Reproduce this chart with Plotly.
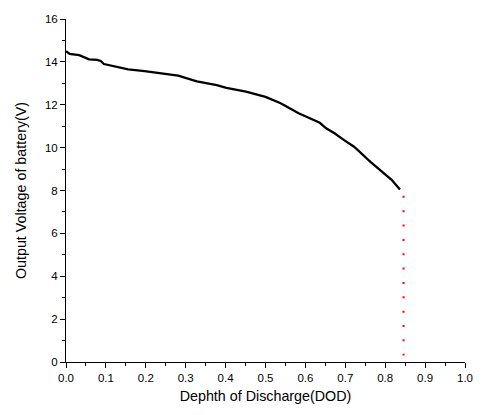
import plotly.graph_objects as go

# Battery discharge curve
dod = [0.0, 0.009, 0.033, 0.046, 0.058, 0.078, 0.087, 0.095, 0.115, 0.156,
       0.197, 0.230, 0.281, 0.328, 0.378, 0.402, 0.451, 0.500, 0.509, 0.538,
       0.583, 0.615, 0.636, 0.652, 0.673, 0.697, 0.722, 0.763, 0.788, 0.816,
       0.837]
voltage = [14.50, 14.37, 14.31, 14.21, 14.12, 14.09, 14.04, 13.90, 13.81, 13.65,
           13.57, 13.49, 13.36, 13.09, 12.92, 12.79, 12.61, 12.37, 12.30, 12.07,
           11.60, 11.33, 11.16, 10.90, 10.67, 10.35, 10.04, 9.34, 8.96, 8.50,
           8.05]

# Red dotted cut-off marker
cutoff_x = [0.846, 0.846]
cutoff_y = [7.75, 0.3]

font_family = "Liberation Sans, Arial, sans-serif"

fig = go.Figure()
fig.add_trace(go.Scatter(x=dod, y=voltage, mode="lines",
                         line=dict(color="black", width=2.3),
                         showlegend=False, hoverinfo="skip"))
fig.add_trace(go.Scatter(x=cutoff_x, y=cutoff_y, mode="lines",
                         line=dict(color="red", width=2, dash="2px,12.35px"),
                         showlegend=False, hoverinfo="skip"))

fig.update_layout(
    width=485, height=415,
    margin=dict(l=66, r=12, t=19, b=53),
    paper_bgcolor="white", plot_bgcolor="white",
    font=dict(family=font_family, size=12, color="black"),
)
fig.update_xaxes(
    range=[0, 1], dtick=0.1, tick0=0, tickformat=".1f",
    showline=True, linecolor="black", linewidth=1,
    ticks="outside", ticklen=5, tickwidth=1, tickcolor="black",
    minor=dict(dtick=0.05, ticks="outside", ticklen=3, tickcolor="black", showgrid=False),
    showgrid=False, zeroline=False,
    tickfont=dict(size=11.5),
    title=dict(text="Dephth of Discharge(DOD)", font=dict(size=14.3), standoff=8),
)
fig.update_yaxes(
    range=[0, 16], dtick=2, tick0=0,
    showline=True, linecolor="black", linewidth=1,
    ticks="outside", ticklen=5, tickwidth=1, tickcolor="black",
    minor=dict(dtick=1, ticks="outside", ticklen=3, tickcolor="black", showgrid=False),
    showgrid=False, zeroline=False,
    tickfont=dict(size=11.5),
    title=dict(text="Output Voltage of battery(V)", font=dict(size=14.3), standoff=14),
)

fig.write_html("out.html")
